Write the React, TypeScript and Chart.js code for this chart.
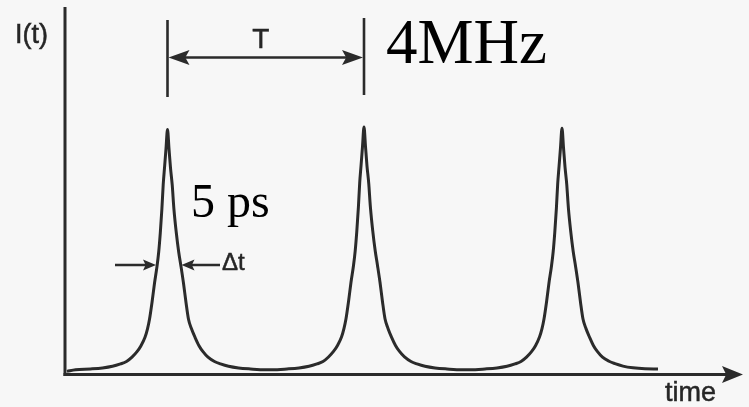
import React, { useEffect, useRef } from "react";
import { Chart, registerables } from "chart.js";

Chart.register(...registerables);

// Pulse train I(t): time (arbitrary units) and intensity samples along the trace
const curveTime = [
  2,
  10.5, 25.5, 37.5, 47.5, 55.5, 61.5, 67, 72, 76, 80, 82.5, 84.5, 87, 89.5, 92, 93.7, 95.3, 96.9, 98.2, 99.5, 101, 102.5,
  104, 105.5, 107.2, 108.9, 111.3, 113.7, 116, 118.5, 121, 123.5, 126.5, 130, 134, 138, 143, 149.5, 155.5, 163.5, 173.5, 185.5, 200.5,
  207, 222, 234, 244, 252, 258, 263.5, 268.5, 272.5, 276.5, 279, 281, 283.5, 286, 288.5, 290.2, 291.8, 293.4, 294.7, 296, 297.5, 299,
  300.5, 302, 303.7, 305.4, 307.8, 310.2, 312.5, 315, 317.5, 320, 323, 326.5, 330.5, 334.5, 339.5, 346, 352, 360, 370, 382, 397,
  405, 420, 432, 442, 450, 456, 461.5, 466.5, 470.5, 474.5, 477, 479, 481.5, 484, 486.5, 488.2, 489.8, 491.4, 492.7, 494, 495.5, 497,
  498.5, 500, 501.7, 503.4, 505.8, 508.2, 510.5, 513, 515.5, 518, 521, 524.5, 528.5, 532.5, 537.5, 544, 550, 558, 568, 580, 593,
];

const curveIntensity = [
  0.013,
  0.02, 0.023, 0.027, 0.034, 0.044, 0.054, 0.072, 0.095, 0.12, 0.155, 0.19, 0.23, 0.3, 0.38, 0.45, 0.51, 0.59, 0.69, 0.79, 0.86, 0.94, 1.02,
  0.94, 0.86, 0.79, 0.69, 0.59, 0.51, 0.45, 0.38, 0.3, 0.23, 0.19, 0.155, 0.12, 0.095, 0.072, 0.054, 0.044, 0.034, 0.027, 0.023, 0.02,
  0.02, 0.023, 0.027, 0.034, 0.044, 0.054, 0.073, 0.096, 0.121, 0.156, 0.192, 0.232, 0.303, 0.384, 0.454, 0.515, 0.596, 0.697, 0.798, 0.868, 0.949, 1.03,
  0.949, 0.868, 0.798, 0.697, 0.596, 0.515, 0.454, 0.384, 0.303, 0.232, 0.192, 0.156, 0.121, 0.096, 0.073, 0.054, 0.044, 0.034, 0.027, 0.023, 0.02,
  0.02, 0.023, 0.027, 0.034, 0.044, 0.054, 0.072, 0.095, 0.12, 0.156, 0.191, 0.231, 0.301, 0.382, 0.452, 0.512, 0.593, 0.693, 0.794, 0.864, 0.945, 1.025,
  0.945, 0.864, 0.794, 0.693, 0.593, 0.512, 0.452, 0.382, 0.301, 0.231, 0.191, 0.156, 0.12, 0.095, 0.072, 0.055, 0.045, 0.035, 0.028, 0.024, 0.023,
];

// Period bracket spans from the first to the second pulse maximum
const periodStart = 102.5;
const periodEnd = 299;
const periodBracketTop = 1.476;
const periodBracketBottom = 1.155;
const periodArrowLevel = 1.32;

// Pulse-width arrows around the first pulse at half maximum
const widthArrowLevel = 0.456;
const widthArrowLeft = [50, 91];
const widthArrowRight = [116.5, 155];

const labels = {
  yAxis: "I(t)",
  xAxis: "time",
  period: "T",
  width: "Δt",
  rate: "4MHz",
  duration: "5 ps",
};

const INK = "#2b2b2b";

function arrowHead(ctx: CanvasRenderingContext2D, tipX: number, tipY: number, dir: number, len: number, half: number) {
  ctx.beginPath();
  ctx.moveTo(tipX, tipY);
  ctx.lineTo(tipX - dir * len, tipY - half);
  ctx.lineTo(tipX - dir * len * 0.8, tipY);
  ctx.lineTo(tipX - dir * len, tipY + half);
  ctx.closePath();
  ctx.fill();
}

function inkText(ctx: CanvasRenderingContext2D, text: string, x: number, y: number) {
  ctx.fillText(text, x, y);
  ctx.strokeText(text, x, y);
}

const diagramPlugin = {
  id: "pulseDiagram",
  beforeDatasetsDraw(chart: any) {
    const { ctx, chartArea } = chart;
    ctx.save();
    ctx.strokeStyle = INK;
    ctx.fillStyle = INK;
    ctx.lineWidth = 3;
    ctx.lineCap = "butt";
    // vertical axis
    ctx.beginPath();
    ctx.moveTo(chartArea.left, 7);
    ctx.lineTo(chartArea.left, chartArea.bottom + 1.5);
    ctx.stroke();
    // horizontal axis with arrow
    ctx.beginPath();
    ctx.moveTo(chartArea.left - 1.5, chartArea.bottom);
    ctx.lineTo(chartArea.right - 16, chartArea.bottom);
    ctx.stroke();
    arrowHead(ctx, chartArea.right, chartArea.bottom, 1, 21, 8.5);
    ctx.restore();
  },
  afterDatasetsDraw(chart: any) {
    const { ctx } = chart;
    const xs = chart.scales.x;
    const ys = chart.scales.y;
    ctx.save();
    ctx.strokeStyle = INK;
    ctx.fillStyle = INK;
    ctx.lineWidth = 2.6;

    // period bracket
    const x1 = xs.getPixelForValue(periodStart);
    const x2 = xs.getPixelForValue(periodEnd);
    const yTop = ys.getPixelForValue(periodBracketTop);
    const yBot = ys.getPixelForValue(periodBracketBottom);
    const yArr = ys.getPixelForValue(periodArrowLevel);
    ctx.beginPath();
    ctx.moveTo(x1, yTop);
    ctx.lineTo(x1, yBot);
    ctx.moveTo(x2, yTop - 2);
    ctx.lineTo(x2, yBot - 2);
    ctx.moveTo(x1 + 10, yArr);
    ctx.lineTo(x2 - 10, yArr);
    ctx.stroke();
    arrowHead(ctx, x1 + 1, yArr, -1, 21, 7.5);
    arrowHead(ctx, x2 - 1, yArr, 1, 21, 7.5);

    // pulse width arrows
    const yw = ys.getPixelForValue(widthArrowLevel);
    const la = widthArrowLeft.map((v) => xs.getPixelForValue(v));
    const ra = widthArrowRight.map((v) => xs.getPixelForValue(v));
    ctx.lineWidth = 2.4;
    ctx.beginPath();
    ctx.moveTo(la[0], yw);
    ctx.lineTo(la[1] - 8, yw);
    ctx.moveTo(ra[0] + 8, yw);
    ctx.lineTo(ra[1], yw);
    ctx.stroke();
    arrowHead(ctx, la[1], yw, 1, 13, 5.5);
    arrowHead(ctx, ra[0], yw, -1, 13, 5.5);

    // labels
    ctx.textBaseline = "alphabetic";
    ctx.textAlign = "left";
    ctx.fillStyle = "#262626";
    ctx.strokeStyle = "#262626";
    ctx.lineWidth = 0.5;
    ctx.font = '27px "Liberation Sans", Arial, sans-serif';
    inkText(ctx, labels.yAxis, 15, 43);
    ctx.font = '27px "Liberation Sans", Arial, sans-serif';
    inkText(ctx, labels.xAxis, 665, 401);
    ctx.font = '24px "Liberation Sans", Arial, sans-serif';
    inkText(ctx, labels.width, 222, 270);
    ctx.font = '28px "Liberation Sans", Arial, sans-serif';
    ctx.textAlign = "center";
    inkText(ctx, labels.period, (x1 + x2) / 2 - 5, 48);

    ctx.fillStyle = "#000000";
    ctx.textAlign = "left";
    ctx.font = '63px "Liberation Serif", "Times New Roman", serif';
    ctx.fillText(labels.rate, 386, 63);
    ctx.font = '48px "Liberation Serif", "Times New Roman", serif';
    ctx.fillText(labels.duration, 191, 217);
    ctx.restore();
  },
};

export default function App() {
  const canvasRef = useRef<HTMLCanvasElement | null>(null);

  useEffect(() => {
    const canvas = canvasRef.current;
    if (!canvas) return;
    const points = curveTime.map((t, i) => ({ x: t, y: curveIntensity[i] }));
    const chart = new Chart(canvas, {
      type: "line",
      data: {
        datasets: [
          {
            data: points,
            borderColor: INK,
            borderWidth: 3,
            pointRadius: 0,
            fill: false,
            cubicInterpolationMode: "monotone",
          },
        ],
      },
      options: {
        animation: false,
        responsive: false,
        devicePixelRatio: 1,
        layout: { padding: { left: 65, right: 6, top: 7, bottom: 32.5 } },
        plugins: { legend: { display: false }, tooltip: { enabled: false } },
        scales: {
          x: { type: "linear", min: 0, max: 678, display: false },
          y: { type: "linear", min: 0, max: 1.53, display: false },
        },
      },
      plugins: [diagramPlugin],
    });
    return () => chart.destroy();
  }, []);

  return (
    <div
      style={{
        position: "absolute",
        left: 0,
        top: 0,
        width: 749,
        height: 407,
        background: "#f7f7f7",
      }}
    >
      <canvas ref={canvasRef} width={749} height={407} style={{ display: "block" }} />
    </div>
  );
}
